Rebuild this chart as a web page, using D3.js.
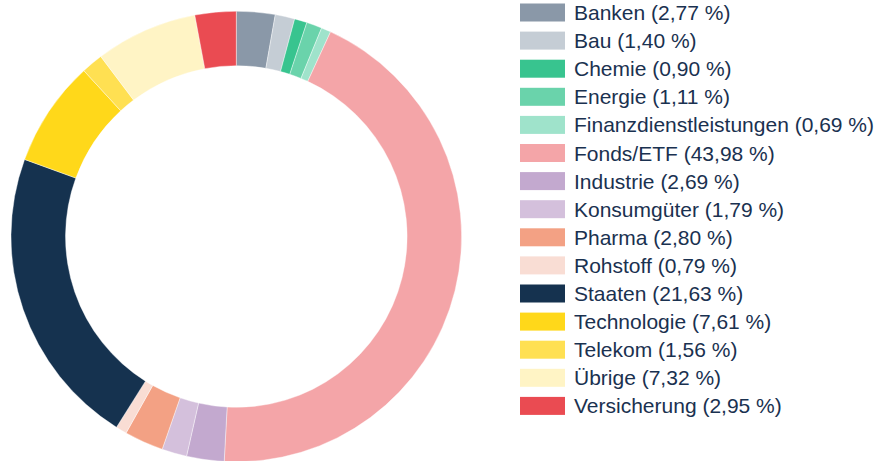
<!DOCTYPE html>
<html><head><meta charset="utf-8">
<script src="https://cdn.jsdelivr.net/npm/d3@7"></script>
<style>html,body{margin:0;padding:0;background:#fff;}svg{display:block;}</style>
</head><body>
<svg id="c" width="884" height="461"></svg>
<script>
const categories = ["Banken","Bau","Chemie","Energie","Finanzdienstleistungen","Fonds/ETF","Industrie","Konsumgüter","Pharma","Rohstoff","Staaten","Technologie","Telekom","Übrige","Versicherung"];
const values = [2.77,1.40,0.90,1.11,0.69,43.98,2.69,1.79,2.80,0.79,21.63,7.61,1.56,7.32,2.95];
const colors = ["#8a98a8","#c5cdd5","#38c48f","#6ad3ab","#9fe3cb","#f4a5a8","#c3a9cf","#d4c0dc","#f3a184","#f9ddd4","#15324f","#ffd81a","#ffe052","#fff4c5","#ea4b52"];

const data = categories.map((c,i)=>({name:c,value:values[i],color:colors[i]}));
const svg = d3.select("#c");
const cx = 236.3, cy = 236.5, rOuter = 225.3, rInner = 170.8;

const pie = d3.pie().value(d=>d.value).sort(null);
const arc = d3.arc().innerRadius(rInner).outerRadius(rOuter);

svg.append("g").attr("transform",`translate(${cx},${cy})`)
  .selectAll("path").data(pie(data)).join("path")
  .attr("d",arc).attr("fill",d=>d.data.color)
  .attr("stroke","#fff").attr("stroke-width",0.4);

const fmt = v => v.toFixed(2).replace(".",",");
const y = d3.scaleBand().domain(categories).range([-1,420.5]).paddingInner(0);
const lg = svg.append("g");
const rows = lg.selectAll("g").data(data).join("g")
  .attr("transform",d=>`translate(520,${y(d.name)})`);
rows.append("rect").attr("x",0).attr("y",4.5).attr("width",45).attr("height",18).attr("fill",d=>d.color);
rows.append("text").attr("x",54).attr("y",21).text(d=>`${d.name} (${fmt(d.value)} %)`)
  .attr("fill","#1a3150").style("font-family","'Liberation Sans', Arial, sans-serif").style("font-size","21px");
</script>
</body></html>
